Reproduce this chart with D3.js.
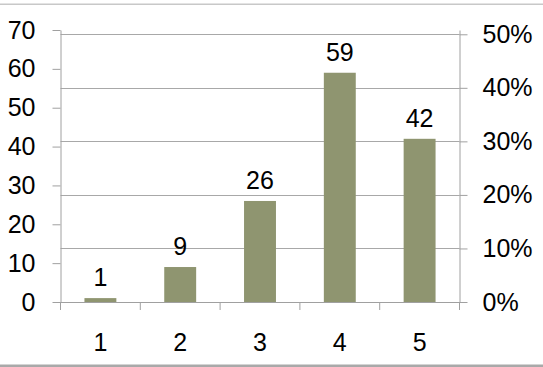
<!DOCTYPE html>
<meta charset="utf-8">
<script src="https://d3js.org/d3.v7.min.js"></script>
<style>
body { margin: 0; background-color: white; }
text { font-family: "Liberation Sans", Arial, sans-serif; fill: #000; }
</style>
<div id="chart"></div>
<script>
  // data
  var categories = ["1", "2", "3", "4", "5"];
  var counts = [1, 9, 26, 59, 42];
  var leftTicks = [0, 10, 20, 30, 40, 50, 60, 70];
  var rightTicks = [0, 0.1, 0.2, 0.3, 0.4, 0.5];

  var width = 543, height = 367;
  var plotLeft = 60.5, plotRight = 459.5, plotTop = 30, plotBottom = 302;

  var svg = d3.select("#chart")
    .append("svg")
      .attr("width", width)
      .attr("height", height);

  // frame lines
  svg.append("rect").attr("x", 0).attr("y", 3.5).attr("width", width).attr("height", 1.5).attr("fill", "#c8c8c8");
  svg.append("rect").attr("x", 0).attr("y", 364.5).attr("width", width).attr("height", 2.5).attr("fill", "#a9a9a9");

  var x = d3.scaleBand()
    .domain(categories)
    .range([plotLeft, plotRight])
    .paddingInner(0.6)
    .paddingOuter(0.3);

  var xTick = d3.scaleBand().domain(categories).range([plotLeft, plotRight]);

  var y = d3.scaleLinear().domain([0, 70]).range([plotBottom, plotTop]);
  var y2 = d3.scaleLinear().domain([0, 0.508]).range([plotBottom, plotTop]);

  // gridlines on the right axis ticks
  svg.append("g")
    .selectAll("line")
    .data(rightTicks.slice(1))
    .enter()
    .append("line")
      .attr("x1", plotLeft).attr("x2", plotRight)
      .attr("y1", function(d) { return Math.round(y2(d)) + 0.5; })
      .attr("y2", function(d) { return Math.round(y2(d)) + 0.5; })
      .attr("stroke", "#a8a8a8")
      .attr("stroke-width", 1);

  // bars
  svg.append("g")
    .selectAll("rect")
    .data(counts)
    .enter()
    .append("rect")
      .attr("x", function(d, i) { return x(categories[i]); })
      .attr("y", function(d) { return y(d); })
      .attr("width", x.bandwidth())
      .attr("height", function(d) { return plotBottom - y(d); })
      .attr("fill", "#8f9570");

  // value labels
  svg.append("g")
    .selectAll("text")
    .data(counts)
    .enter()
    .append("text")
      .attr("x", function(d, i) { return x(categories[i]) + x.bandwidth() / 2; })
      .attr("y", function(d) { return y(d) - 12; })
      .attr("text-anchor", "middle")
      .style("font-size", "25px")
      .text(function(d) { return d; });

  var axisColor = "#a0a0a0";

  // left axis
  var gl = svg.append("g")
    .attr("transform", "translate(" + plotLeft + ",0)")
    .call(d3.axisLeft(y).tickValues(leftTicks).tickSize(8).tickPadding(17).tickSizeOuter(0));
  // right axis
  var gr = svg.append("g")
    .attr("transform", "translate(" + plotRight + ",0)")
    .call(d3.axisRight(y2).tickValues(rightTicks).tickSize(8).tickPadding(15).tickSizeOuter(0)
      .tickFormat(d3.format(".0%")));
  // bottom axis
  var gb = svg.append("g")
    .attr("transform", "translate(0," + plotBottom + ")")
    .call(d3.axisBottom(xTick).tickValues([]).tickSizeOuter(0));

  gb.selectAll(".tick-b")
    .data(d3.range(categories.length + 1))
    .enter()
    .append("line")
      .attr("x1", function(i) { return plotLeft + i * xTick.bandwidth(); })
      .attr("x2", function(i) { return plotLeft + i * xTick.bandwidth(); })
      .attr("y1", 0).attr("y2", 8)
      .attr("stroke", axisColor);

  gb.selectAll(".lab")
    .data(categories)
    .enter()
    .append("text")
      .attr("x", function(d) { return xTick(d) + xTick.bandwidth() / 2; })
      .attr("y", 49)
      .attr("text-anchor", "middle")
      .style("font-size", "25px")
      .text(function(d) { return d; });

  [gl, gr, gb].forEach(function(g) {
    g.selectAll("path, line").attr("stroke", axisColor);
    g.selectAll(".tick text").style("font-size", "25px").style("font-family", "Liberation Sans, Arial, sans-serif").attr("fill", "#000");
  });
</script>
</html>
